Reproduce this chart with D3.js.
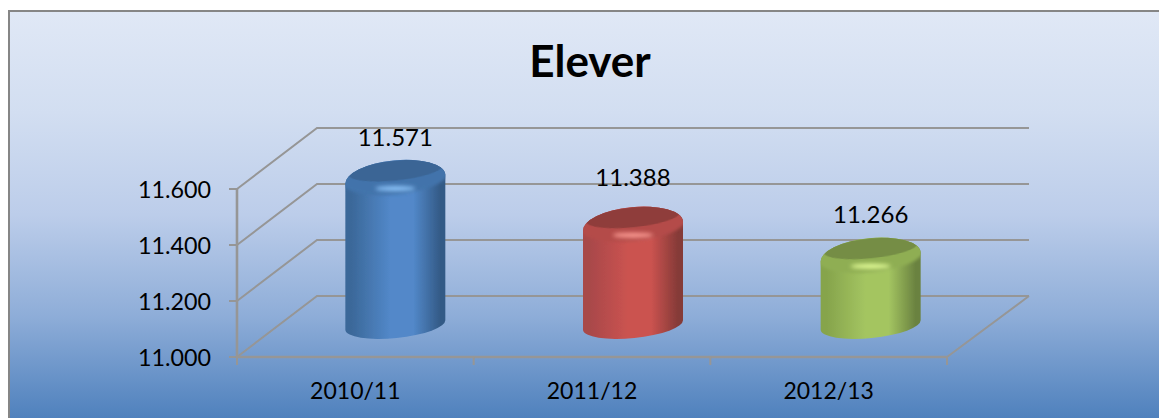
<!DOCTYPE html>
<html>
<head>
<meta charset="utf-8">
<script src="https://cdn.jsdelivr.net/npm/d3@7"></script>
<style>
  html, body { margin: 0; padding: 0; background: #fff; }
  svg { display: block; }
  text { font-family: Lato, "Open Sans", sans-serif; fill: #000; }
</style>
</head>
<body>
<svg id="chart" width="1159" height="418"></svg>
<script>
// Chart data
const categories = ['2010/11', '2011/12', '2012/13'];
const values = [11571, 11388, 11266];
const valueLabels = ['11.571', '11.388', '11.266'];
const yTicks = [11000, 11200, 11400, 11600];
const yTickLabels = ['11.000', '11.200', '11.400', '11.600'];
const barColors = [
  { left: '#3b6899', mid: '#5288c9', right: '#335a86', rim: '#4273ab', cap: '#3a6595', glow: '#8cc4fa' },
  { left: '#a8484a', mid: '#cb5350', right: '#853a37', rim: '#b44c49', cap: '#8f3d3a', glow: '#fb9a92' },
  { left: '#86a44c', mid: '#a4c561', right: '#6a8240', rim: '#8fae52', cap: '#748d45', glow: '#e2fc96' }
];

const svg = d3.select('#chart');
const defs = svg.append('defs');

// Layout of the fake 3D box
const depthX = 80, depthY = 61;
const x = d3.scaleBand().domain(categories).range([237, 947]);
const y = d3.scaleLinear().domain([11000, 11600]).range([357, 189]);
// bars stand halfway into the box and come out a bit shorter
const barBase = 325, barScale = 0.91, barShift = 40;
const barY = d3.scaleLinear().domain([11000, 11600])
  .range([barBase, barBase - (y(11000) - y(11600)) * barScale]);
const rx = 50, tilt = 5, capRise = 19, footDrop = 13;
const labelNudge = [0, -6, 0];

// Background panel
const bg = defs.append('linearGradient').attr('id', 'bg')
  .attr('x1', 0).attr('y1', 0).attr('x2', 0).attr('y2', 1);
[[0, '#e0e8f6'], [0.25, '#d2def1'], [0.5, '#bccdea'], [0.75, '#8eadd8'], [1, '#4f81bd']]
  .forEach(([o, c]) => bg.append('stop').attr('offset', o).attr('stop-color', c));

svg.append('rect')
  .attr('x', 9).attr('y', 11).attr('width', 1150).attr('height', 407)
  .attr('fill', 'url(#bg)');
svg.append('path')
  .attr('d', 'M9,418V11H1159')
  .attr('fill', 'none').attr('stroke', '#868686').attr('stroke-width', 2);

// Soft filters, the source picture is a bit blurry
const edge = defs.append('filter').attr('id', 'edge');
edge.append('feGaussianBlur').attr('stdDeviation', 0.6);
const soft = defs.append('filter').attr('id', 'soft')
  .attr('x', '-30%').attr('y', '-100%').attr('width', '160%').attr('height', '300%');
soft.append('feGaussianBlur').attr('stdDeviation', 2.2);
const softer = defs.append('filter').attr('id', 'softer')
  .attr('x', '-10%').attr('y', '-30%').attr('width', '120%').attr('height', '160%');
softer.append('feGaussianBlur').attr('stdDeviation', 1.5);

// Walls and floor
const wallColor = '#969696';
const walls = svg.append('g').attr('fill', 'none').attr('stroke', wallColor)
  .attr('filter', 'url(#edge)');
const x0 = x.range()[0], x1 = x.range()[1];
yTicks.forEach(t => {
  walls.append('path').attr('stroke-width', 2)
    .attr('d', `M${x0},${y(t)}L${x0 + depthX},${y(t) - depthY}H${x1 + depthX + 2}`);
  walls.append('path').attr('stroke-width', 2)
    .attr('d', `M${x0 - 8},${y(t)}H${x0}`);
});
walls.append('path').attr('stroke-width', 2)
  .attr('d', `M${x1},${y(11000)}L${x1 + depthX + 2},${y(11000) - depthY}`);
walls.append('path').attr('stroke-width', 2.6)
  .attr('d', `M${x0},${y(11600)}V${y(11000)}H${x1}`);
[x0, x0 + x.bandwidth(), x0 + 2 * x.bandwidth(), x1].forEach(t => {
  walls.append('path').attr('stroke-width', 2)
    .attr('d', `M${t},${y(11000)}v8`);
});

// Y tick labels
svg.append('g').selectAll('text').data(yTicks).join('text')
  .attr('x', 211).attr('y', d => y(d) + 9)
  .attr('text-anchor', 'end').attr('font-size', 23.3)
  .text((d, i) => yTickLabels[i]);

// Category labels
svg.append('g').selectAll('text').data(categories).join('text')
  .attr('x', d => x(d) + x.bandwidth() / 2).attr('y', 399)
  .attr('text-anchor', 'middle').attr('font-size', 23)
  .text(d => d);

// Cylinders
const tiltDeg = Math.atan2(tilt, rx) * 180 / Math.PI;

values.forEach((v, i) => {
  const c = barColors[i];
  const cx = x(categories[i]) + x.bandwidth() / 2 + barShift + i;
  const top = barY(v);

  const side = defs.append('linearGradient').attr('id', `side${i}`);
  [[0, c.left], [0.06, c.left], [0.45, c.mid], [0.68, c.mid], [0.95, c.right], [1, c.right]]
    .forEach(([o, col]) => side.append('stop').attr('offset', o).attr('stop-color', col));

  const g = svg.append('g').attr('filter', 'url(#edge)');
  const clipId = `clip${i}`;
  const outline = `M${cx - rx},${top + tilt}`
    + `A${rx},${capRise} ${-tiltDeg} 0 1 ${cx + rx},${top - tilt}`
    + `V${barBase - tilt}`
    + `A${rx},${footDrop} ${-tiltDeg} 0 1 ${cx - rx},${barBase + tilt}Z`;

  defs.append('clipPath').attr('id', clipId).append('path').attr('d', outline);
  g.append('path').attr('d', outline).attr('fill', `url(#side${i})`);

  const inner = g.append('g').attr('clip-path', `url(#${clipId})`);
  // rounded rim between cap and body
  inner.append('ellipse')
    .attr('cx', cx).attr('cy', top - 2)
    .attr('rx', rx + 3).attr('ry', 17)
    .attr('transform', `rotate(${-tiltDeg},${cx},${top - 2})`)
    .attr('fill', c.rim).attr('filter', 'url(#softer)');
  // highlight on the rim
  inner.append('ellipse')
    .attr('cx', cx).attr('cy', top + 9)
    .attr('rx', 20).attr('ry', 2.5)
    .attr('fill', c.glow).attr('filter', 'url(#soft)');
  // dark top face
  inner.append('ellipse')
    .attr('cx', cx).attr('cy', top - 9)
    .attr('rx', rx - 3).attr('ry', 10)
    .attr('transform', `rotate(${-tiltDeg},${cx},${top - 9})`)
    .attr('fill', c.cap).attr('filter', 'url(#edge)');

  svg.append('text')
    .attr('x', cx).attr('y', top - 34 + labelNudge[i])
    .attr('text-anchor', 'middle').attr('font-size', 24)
    .text(valueLabels[i]);
});

// Title
svg.append('text')
  .attr('x', 590).attr('y', 77)
  .attr('text-anchor', 'middle')
  .attr('font-size', 44).attr('font-weight', 700)
  .text('Elever');
</script>
</body>
</html>
